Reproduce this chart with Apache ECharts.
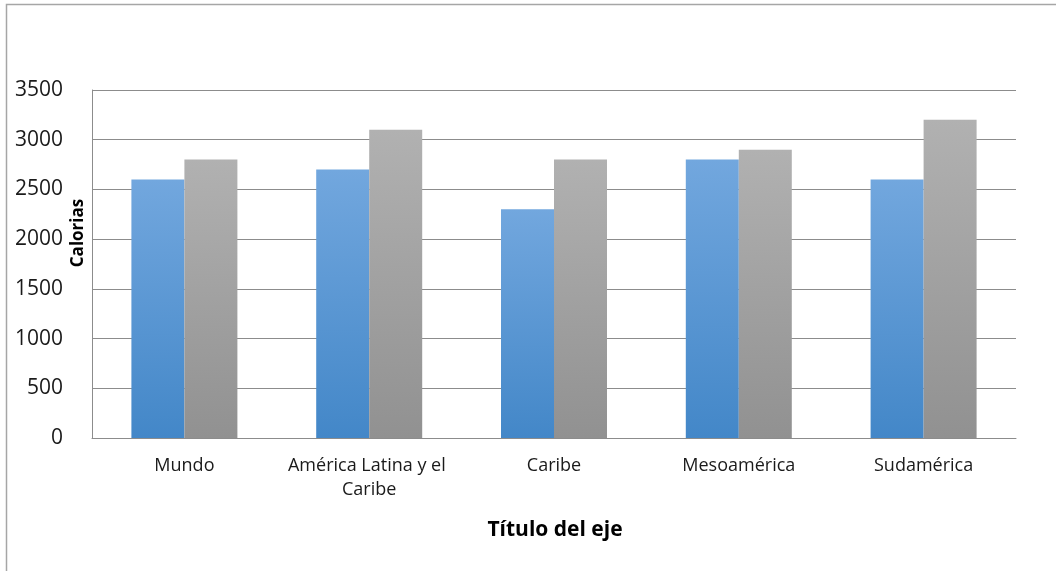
<!DOCTYPE html>
<html>
<head>
<meta charset="utf-8">
<script src="https://cdn.jsdelivr.net/npm/echarts@6/dist/echarts.min.js"></script>
<style>
  html, body { margin: 0; padding: 0; background: #ffffff; }
  #chart { width: 1056px; height: 571px; }
</style>
</head>
<body>
<div id="chart"></div>
<script>
// Regions on the horizontal axis
const categories = ['Mundo', 'América Latina y el Caribe', 'Caribe', 'Mesoamérica', 'Sudamérica'];
// Calories per region, first and second series
const seriesA = [2600, 2700, 2300, 2800, 2600];
const seriesB = [2800, 3100, 2800, 2900, 3200];
// Vertical axis range
const yMin = 0;
const yMax = 3500;
const yStep = 500;

const FONT = '"Open Sans", "Noto Sans", sans-serif';

const chart = echarts.init(document.getElementById('chart'));

function vGrad(top, bottom) {
  return new echarts.graphic.LinearGradient(0, 0, 0, 1, [
    { offset: 0, color: top },
    { offset: 1, color: bottom }
  ]);
}

chart.setOption({
  animation: false,
  backgroundColor: '#ffffff',
  grid: { left: 92, right: 40, top: 90, bottom: 133, containLabel: false },
  xAxis: {
    type: 'category',
    data: categories,
    axisLine: { show: true, lineStyle: { color: '#8c8c8c', width: 1 } },
    axisTick: { show: false },
    axisLabel: {
      color: '#1a1a1a',
      fontFamily: FONT,
      fontSize: 18,
      lineHeight: 24,
      margin: 16,
      width: 175,
      overflow: 'break',
      interval: 0
    }
  },
  yAxis: {
    type: 'value',
    min: yMin,
    max: yMax,
    interval: yStep,
    axisLine: { show: true, lineStyle: { color: '#8c8c8c', width: 1 } },
    axisTick: { show: false },
    splitLine: { show: true, lineStyle: { color: '#8c8c8c', width: 1 } },
    axisLabel: {
      color: '#1a1a1a',
      fontFamily: FONT,
      fontSize: 21,
      margin: 29,
      formatter: function (v) { return String(v); }
    }
  },
  series: [
    {
      type: 'bar',
      data: seriesA,
      barWidth: 53,
      barGap: '0%',
      itemStyle: { color: vGrad('#72a7de', '#4387c8') }
    },
    {
      type: 'bar',
      data: seriesB,
      barWidth: 53,
      barGap: '0%',
      itemStyle: { color: vGrad('#b1b1b1', '#919191') }
    }
  ],
  graphic: [
    {
      // outer frame of the chart area
      type: 'rect',
      silent: true,
      shape: { x: 6.5, y: 4.5, width: 1200, height: 800 },
      style: { fill: 'none', stroke: '#a6a6a6', lineWidth: 1.5 },
      z: -1
    },
    {
      type: 'text',
      silent: true,
      x: 78,
      y: 233,
      rotation: Math.PI / 2,
      style: {
        text: 'Calorias',
        fontFamily: FONT,
        fontSize: 17,
        fontWeight: 'bold',
        fill: '#000000',
        align: 'center',
        verticalAlign: 'middle'
      }
    },
    {
      type: 'text',
      silent: true,
      x: 555,
      y: 530,
      style: {
        text: 'Título del eje',
        fontFamily: FONT,
        fontSize: 21,
        fontWeight: 'bold',
        fill: '#000000',
        align: 'center',
        verticalAlign: 'middle'
      }
    }
  ]
});
</script>
</body>
</html>
